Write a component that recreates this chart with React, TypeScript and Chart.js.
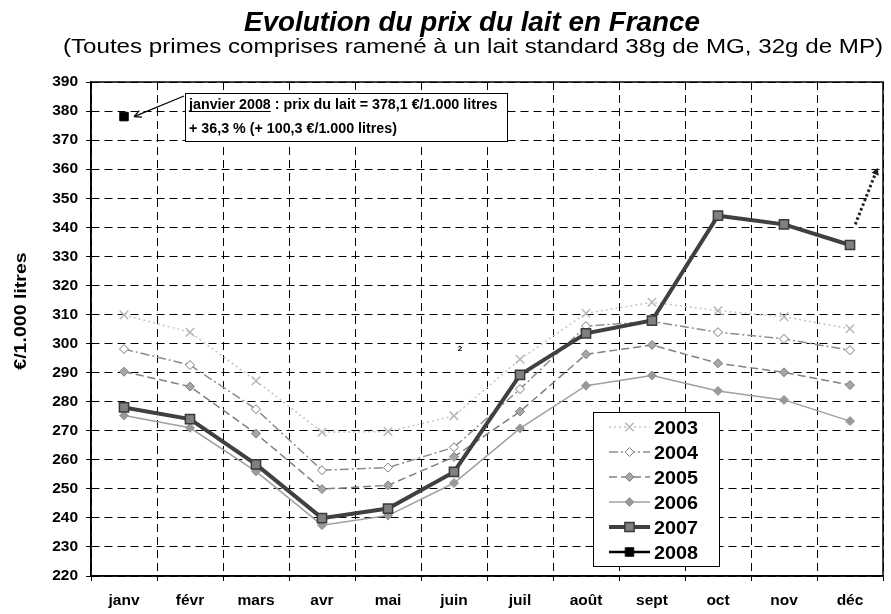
import React, { useEffect, useRef } from 'react';
import Chart from 'chart.js/auto';

// ---------- data ----------
const months = ['janv', 'févr', 'mars', 'avr', 'mai', 'juin', 'juil', 'août', 'sept', 'oct', 'nov', 'déc'];
const yMin = 220;
const yMax = 390;
const yStep = 10;

const s2003 = [309.8, 303.9, 287.2, 269.5, 269.7, 275.1, 294.6, 310.4, 314.2, 311.3, 309.2, 305.1];
const s2004 = [298.1, 292.6, 277.4, 256.4, 257.3, 264.3, 284.3, 306.0, 307.6, 303.9, 301.6, 297.7];
const s2005 = [290.3, 285.2, 269.0, 249.9, 251.2, 261.0, 276.6, 296.3, 299.5, 293.2, 290.1, 285.7];
const s2006 = [275.2, 271.0, 256.0, 237.5, 240.8, 252.0, 270.8, 285.5, 289.0, 283.7, 280.6, 273.3];
const s2007 = [278.0, 274.0, 258.4, 239.9, 243.2, 255.8, 289.2, 303.5, 307.9, 344.0, 341.0, 333.9];
const s2008 = [378.1, null, null, null, null, null, null, null, null, null, null, null];

const seriesNames = ['2003', '2004', '2005', '2006', '2007', '2008'];
const seriesData = [s2003, s2004, s2005, s2006, s2007, s2008];

const titleText = 'Evolution du prix du lait en France';
const subtitleText = '(Toutes primes comprises ramené à un lait standard 38g de MG, 32g de MP)';
const yAxisTitle = '€/1.000 litres';
const noteBold = 'janvier 2008';
const noteRest = ' : prix du lait = 378,1 €/1.000 litres';
const noteLine2 = '+ 36,3 % (+ 100,3 €/1.000 litres)';
const noteValue = 378.1;
const trendFrom = 341; // dotted arrow start value at déc
const trendTo = 360.5; // dotted arrow end value

// ---------- styles ----------
type St = { color: string; width: number; dash: number[]; point: string; radius: number; fill: string; border: string; bw: number };
const styles: St[] = [
  { color: '#c4c4c4', width: 1.5, dash: [2, 3], point: 'crossRot', radius: 6, fill: '#c0c0c0', border: '#b8b8b8', bw: 1.5 },
  { color: '#8c8c8c', width: 1.5, dash: [9, 3, 2, 3], point: 'rectRot', radius: 4.5, fill: '#ffffff', border: '#7a7a7a', bw: 1 },
  { color: '#808080', width: 1.5, dash: [8, 4], point: 'rectRot', radius: 4.5, fill: '#a6a6a6', border: '#7f7f7f', bw: 1 },
  { color: '#a0a0a0', width: 1.5, dash: [], point: 'rectRot', radius: 4.5, fill: '#999999', border: '#999999', bw: 1 },
  { color: '#404040', width: 4, dash: [], point: 'rect', radius: 6.5, fill: '#808080', border: '#3a3a3a', bw: 1.5 },
  { color: '#000000', width: 2.5, dash: [], point: 'rect', radius: 6, fill: '#000000', border: '#000000', bw: 1 },
];
const drawOrder = [5, 4, 3, 2, 1, 0];

const FONT = '"Liberation Sans", Arial, sans-serif';

function sText(ctx: CanvasRenderingContext2D, text: string, x: number, y: number, font: string, align: CanvasTextAlign, sx = 1) {
  ctx.save();
  ctx.font = font;
  ctx.translate(x, y);
  ctx.scale(sx, 1);
  ctx.textAlign = align;
  ctx.textBaseline = 'alphabetic';
  ctx.fillStyle = '#000';
  ctx.fillText(text, 0, 0);
  const w = ctx.measureText(text).width * sx;
  ctx.restore();
  return w;
}

function marker(ctx: CanvasRenderingContext2D, st: St, x: number, y: number) {
  ctx.save();
  ctx.setLineDash([]);
  ctx.lineWidth = st.bw;
  ctx.strokeStyle = st.border;
  ctx.fillStyle = st.fill;
  const r = st.radius;
  ctx.beginPath();
  if (st.point === 'crossRot') {
    const d = r * Math.SQRT1_2;
    ctx.moveTo(x - d, y - d); ctx.lineTo(x + d, y + d);
    ctx.moveTo(x + d, y - d); ctx.lineTo(x - d, y + d);
    ctx.stroke();
  } else if (st.point === 'rectRot') {
    ctx.moveTo(x, y - r); ctx.lineTo(x + r, y); ctx.lineTo(x, y + r); ctx.lineTo(x - r, y); ctx.closePath();
    ctx.fill(); ctx.stroke();
  } else {
    const s = r * Math.SQRT1_2;
    ctx.rect(x - s, y - s, 2 * s, 2 * s);
    ctx.fill(); ctx.stroke();
  }
  ctx.restore();
}

const decor = {
  id: 'decor',
  beforeDraw(chart: any) {
    const { ctx, width, height } = chart;
    ctx.save();
    ctx.fillStyle = '#fff';
    ctx.fillRect(0, 0, width, height);
    ctx.restore();
  },
  afterDraw(chart: any) {
    const { ctx, chartArea: a, scales } = chart;
    const x = scales.x;
    const y = scales.y;
    ctx.save();
    // frame
    ctx.setLineDash([]);
    ctx.strokeStyle = '#000';
    ctx.lineWidth = 1.5;
    ctx.strokeRect(a.left, a.top, a.right - a.left, a.bottom - a.top);

    // titles
    sText(ctx, titleText, 472, 31, `italic bold 27px ${FONT}`, 'center', 1.03);
    sText(ctx, subtitleText, 473, 53, `21px ${FONT}`, 'center', 1.15);

    // y axis title
    ctx.save();
    ctx.translate(26, 311);
    ctx.rotate(-Math.PI / 2);
    sText(ctx, yAxisTitle, 0, 0, `bold 17px ${FONT}`, 'center', 1.15);
    ctx.restore();

    // annotation box
    const bx = 185.5, by = 93.5, bw = 322, bh = 48;
    ctx.fillStyle = '#fff';
    ctx.fillRect(bx, by, bw, bh);
    ctx.strokeStyle = '#000';
    ctx.lineWidth = 1;
    ctx.strokeRect(bx, by, bw, bh);
    const nf = `bold 14px ${FONT}`;
    const w1 = sText(ctx, noteBold, 189, 109, nf, 'left', 1.02);
    sText(ctx, noteRest, 189 + w1, 109, nf, 'left', 1.02);
    ctx.beginPath();
    ctx.lineWidth = 1.2;
    ctx.moveTo(189, 111.5); ctx.lineTo(189 + w1, 111.5);
    ctx.stroke();
    sText(ctx, noteLine2, 189, 133, nf, 'left', 1.02);

    // arrow from box to 2008 point
    const px = x.getPixelForValue(0) + 10;
    const py = y.getPixelForValue(noteValue);
    const sx0 = 184, sy0 = 96;
    ctx.beginPath();
    ctx.lineWidth = 1.2;
    ctx.moveTo(sx0, sy0); ctx.lineTo(px, py);
    const ang = Math.atan2(py - sy0, px - sx0);
    ctx.moveTo(px, py); ctx.lineTo(px - 8 * Math.cos(ang - 0.45), py - 8 * Math.sin(ang - 0.45));
    ctx.moveTo(px, py); ctx.lineTo(px - 8 * Math.cos(ang + 0.45), py - 8 * Math.sin(ang + 0.45));
    ctx.stroke();

    // dotted trend arrow after déc
    const step = x.getPixelForValue(1) - x.getPixelForValue(0);
    const dx0 = x.getPixelForValue(11) + 0.08 * step;
    const dy0 = y.getPixelForValue(trendFrom);
    const dx1 = x.getPixelForValue(11) + 0.42 * step;
    const dy1 = y.getPixelForValue(trendTo);
    const a2 = Math.atan2(dy1 - dy0, dx1 - dx0);
    const ex = dx1 - 6 * Math.cos(a2), ey = dy1 - 6 * Math.sin(a2);
    ctx.save();
    ctx.strokeStyle = '#222';
    ctx.lineWidth = 3;
    ctx.setLineDash([2.5, 2.5]);
    ctx.beginPath();
    ctx.moveTo(dx0, dy0); ctx.lineTo(ex, ey);
    ctx.stroke();
    ctx.setLineDash([]);
    ctx.fillStyle = '#222';
    ctx.beginPath();
    ctx.moveTo(dx1, dy1);
    ctx.lineTo(dx1 - 8 * Math.cos(a2 - 0.5), dy1 - 8 * Math.sin(a2 - 0.5));
    ctx.lineTo(dx1 - 8 * Math.cos(a2 + 0.5), dy1 - 8 * Math.sin(a2 + 0.5));
    ctx.closePath();
    ctx.fill();
    ctx.restore();

    // stray small label
    sText(ctx, '2', 460, 351, `bold 8px ${FONT}`, 'center', 1);

    // legend
    const lx = 593.5, ly = 412.5, lw = 126, lh = 154;
    ctx.fillStyle = '#fff';
    ctx.fillRect(lx, ly, lw, lh);
    ctx.strokeStyle = '#000';
    ctx.lineWidth = 1;
    ctx.setLineDash([]);
    ctx.strokeRect(lx, ly, lw, lh);
    seriesNames.forEach((name, i) => {
      const st = styles[i];
      const ry = 427 + i * 25;
      ctx.save();
      ctx.strokeStyle = st.color;
      ctx.lineWidth = st.width;
      ctx.setLineDash(st.dash);
      ctx.beginPath();
      ctx.moveTo(609, ry); ctx.lineTo(650, ry);
      ctx.stroke();
      ctx.restore();
      marker(ctx, st, 629.5, ry);
      sText(ctx, name, 654, ry + 7, `bold 19px ${FONT}`, 'left', 1.04);
    });
    ctx.restore();
  },
};

export default function App() {
  const ref = useRef<HTMLCanvasElement | null>(null);
  useEffect(() => {
    if (!ref.current) return;
    const datasets = seriesNames.map((name, i) => {
      const st = styles[i];
      return {
        label: name,
        data: seriesData[i],
        borderColor: st.color,
        borderWidth: st.width,
        borderDash: st.dash,
        pointStyle: st.point,
        pointRadius: st.radius,
        pointBackgroundColor: st.fill,
        pointBorderColor: st.border,
        pointBorderWidth: st.bw,
        fill: false,
        tension: 0,
        order: drawOrder[i],
      };
    });
    const tickFont = { family: '"Liberation Sans", Arial, sans-serif', weight: 'bold' as const, size: 15.5 };
    const chart = new Chart(ref.current, {
      type: 'line',
      data: { labels: months, datasets },
      plugins: [decor],
      options: {
        animation: false,
        responsive: false,
        devicePixelRatio: 1,
        layout: { padding: { left: 0, top: 82, right: 8, bottom: 0 } },
        plugins: { legend: { display: false }, tooltip: { enabled: false }, title: { display: false } },
        scales: {
          x: {
            type: 'category',
            offset: true,
            grid: { offset: true, color: '#000', lineWidth: 1, tickLength: 5, tickColor: '#000', tickBorderDash: [] },
            border: { display: true, color: '#000', width: 1.5, dash: [8, 5] },
            ticks: { font: tickFont, color: '#000', padding: 10, maxRotation: 0, autoSkip: false },
            afterFit: (s: any) => { s.height = 38; },
          },
          y: {
            min: yMin,
            max: yMax,
            grid: { color: '#000', lineWidth: 1, tickLength: 5, tickColor: '#000', tickBorderDash: [] },
            border: { display: true, color: '#000', width: 1.5, dash: [8, 5] },
            ticks: { stepSize: yStep, font: tickFont, color: '#000', padding: 8 },
            afterFit: (s: any) => { s.width = 91; },
          },
        },
      },
    } as any);
    return () => chart.destroy();
  }, []);
  return (
    <div style={{ position: 'absolute', left: 0, top: 0, width: 891, height: 614, background: '#fff' }}>
      <canvas ref={ref} width={891} height={614} style={{ width: 891, height: 614, display: 'block' }} />
    </div>
  );
}
